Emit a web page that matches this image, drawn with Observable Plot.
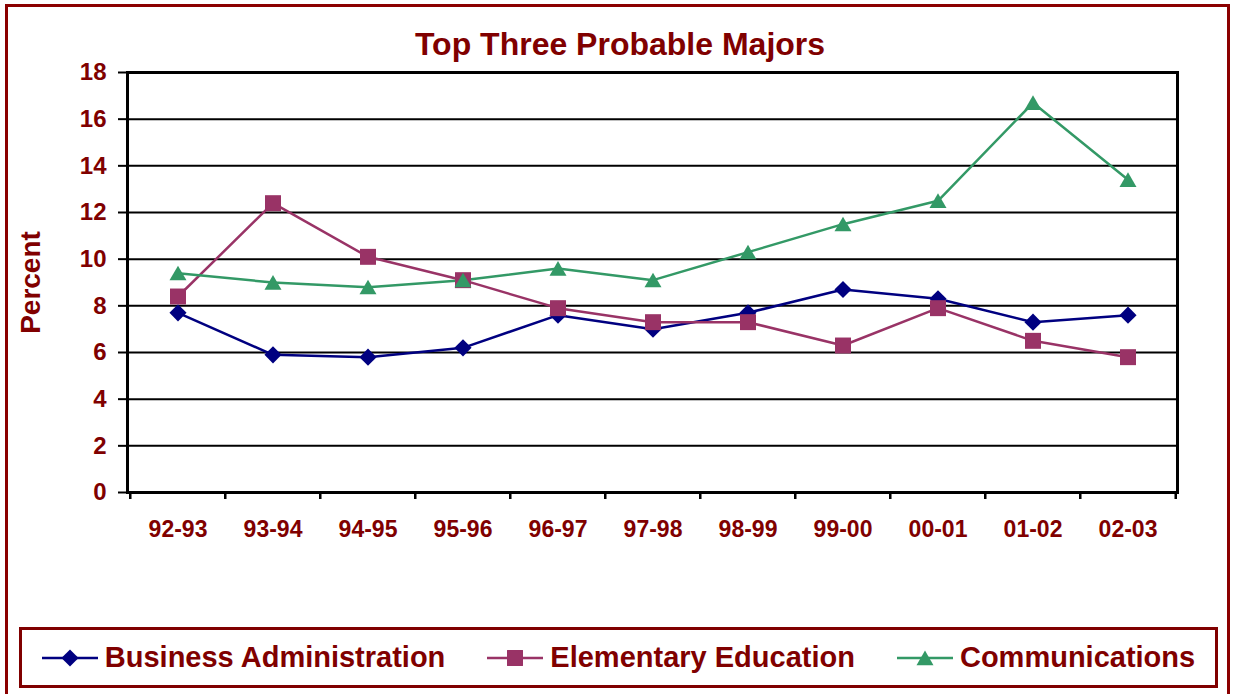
<!DOCTYPE html>
<html>
<head>
<meta charset="utf-8">
<script src="https://cdn.jsdelivr.net/npm/d3@7"></script>
<script src="https://cdn.jsdelivr.net/npm/@observablehq/plot@0.6"></script>
<style>
  html, body { margin: 0; padding: 0; background: #fff; overflow: hidden; }
  #wrap { position: relative; width: 1233px; height: 694px; font-family: "Liberation Sans", Arial, sans-serif; font-weight: bold; color: #800000; }
  #outer { position: absolute; left: 5px; top: 4px; width: 1225px; height: 710px; border: 3px solid #8b0000; box-sizing: border-box; }
  #title { position: absolute; left: 0; width: 1240px; top: 28px; text-align: center; font-size: 32px; line-height: 32px; }
  #chart { position: absolute; left: 0; top: 60px; }
  #legend { position: absolute; left: 19px; top: 627px; width: 1199px; height: 61px; border: 3px solid #800000; box-sizing: border-box;
            display: flex; align-items: center; justify-content: center; gap: 42px; font-size: 29px; line-height: 29px; }
  .item { display: flex; align-items: center; gap: 7px; white-space: nowrap; }
  .item svg { display: block; }
</style>
</head>
<body>
<div id="wrap">
  <div id="outer"></div>
  <div id="title">Top Three Probable Majors</div>
  <div id="chart"></div>
  <div id="legend"></div>
</div>
<script>
const categories = ["92-93", "93-94", "94-95", "95-96", "96-97", "97-98", "98-99", "99-00", "00-01", "01-02", "02-03"];
const business = [7.7, 5.9, 5.8, 6.2, 7.6, 7.0, 7.7, 8.7, 8.3, 7.3, 7.6];
const elementary = [8.4, 12.4, 10.1, 9.1, 7.9, 7.3, 7.3, 6.3, 7.9, 6.5, 5.8];
const communications = [9.4, 9.0, 8.8, 9.1, 9.6, 9.1, 10.3, 11.5, 12.5, 16.7, 13.4];
const seriesNames = ["Business Administration", "Elementary Education", "Communications"];
const yTicks = [0, 2, 4, 6, 8, 10, 12, 14, 16, 18];

const seriesValues = [business, elementary, communications];
const colors = ["#000080", "#993366", "#339966"];
const symbols = ["diamond2", "square", "triangle"];
const radii = [7.7, 9, 6.3];
const dys = [0, 0, 2.3];

const W = 1233, H = 500, mL = 127, mR = 56, mT = 12, mB = 68;
const bw = (W - mL - mR) / categories.length;

const rows = seriesNames.map((s, si) => categories.map((c, i) => ({series: s, year: c, value: seriesValues[si][i]})));

const marks = [
  Plot.ruleY(yTicks.filter(t => t > 0), {stroke: "black", strokeWidth: 2}),
  Plot.frame({stroke: "black", strokeWidth: 3}),
  Plot.ruleX(categories, {x: d => d, y1: 0, y2: -0.3, dx: -bw / 2, stroke: "black", strokeWidth: 2.5}),
  Plot.ruleX([categories[categories.length - 1]], {x: d => d, y1: 0, y2: -0.3, dx: bw / 2, stroke: "black", strokeWidth: 2.5}),
  Plot.axisY({ticks: yTicks, tickSize: 9, tickPadding: 12, stroke: "black", strokeWidth: 2, fill: "#800000", fontSize: 24, fontWeight: "bold", label: null}),
  Plot.axisX({tickSize: 0, tickPadding: 28, fill: "#800000", fontSize: 23, fontWeight: "bold", label: null}),
  Plot.text(["Percent"], {frameAnchor: "left", textAnchor: "middle", dx: -96, rotate: -90, fontSize: 28, fontWeight: "bold", fill: "#800000"})
];
rows.forEach((r, si) => {
  marks.push(Plot.line(r, {x: "year", y: "value", stroke: colors[si], strokeWidth: 2.5}));
});
rows.forEach((r, si) => {
  marks.push(Plot.dot(r, {x: "year", y: "value", symbol: () => symbols[si], r: radii[si], fill: colors[si], stroke: "none", dy: dys[si]}));
});

const chart = Plot.plot({
  width: W, height: H,
  marginLeft: mL, marginRight: mR, marginTop: mT, marginBottom: mB,
  style: {fontFamily: "'Liberation Sans', Arial, sans-serif", fontWeight: "bold", background: "transparent", overflow: "visible"},
  x: {type: "band", domain: categories, padding: 0},
  y: {domain: [0, 18]},
  symbol: {type: "identity"},
  marks
});
document.getElementById("chart").appendChild(chart);

// legend
const legend = document.getElementById("legend");
seriesNames.forEach((name, si) => {
  const item = document.createElement("div");
  item.className = "item";
  const sw = d3.create("svg").attr("width", 56).attr("height", 24);
  sw.append("line").attr("x1", 0).attr("x2", 56).attr("y1", 12).attr("y2", 12).attr("stroke", colors[si]).attr("stroke-width", 2.5);
  const symMap = {diamond2: d3.symbolDiamond2, square: d3.symbolSquare, triangle: d3.symbolTriangle};
  sw.append("path").attr("transform", `translate(28,${12 + dys[si]})`)
    .attr("d", d3.symbol(symMap[symbols[si]], Math.PI * radii[si] * radii[si])())
    .attr("fill", colors[si]);
  item.appendChild(sw.node());
  const t = document.createElement("span");
  t.textContent = name;
  item.appendChild(t);
  legend.appendChild(item);
});
</script>
</body>
</html>
